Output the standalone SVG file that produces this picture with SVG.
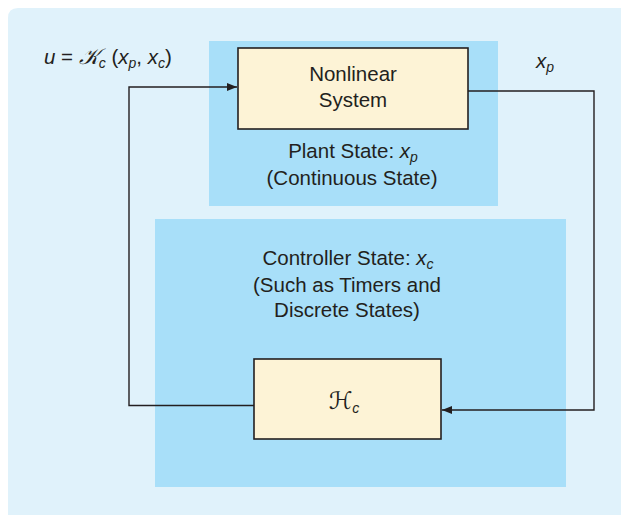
<svg xmlns="http://www.w3.org/2000/svg" width="621" height="515" viewBox="0 0 621 515">
  <defs>
    <style>
      .bg { fill: #e0f2fb; }
      .panel { fill: #a8dff9; }
      .box { fill: #fdf3d6; stroke: #231f20; stroke-width: 1.6; }
      .wire { fill: none; stroke: #231f20; stroke-width: 1.4; }
      text { font-family: "Liberation Sans", Arial, sans-serif; font-size: 20.5px; fill: #231f20; }
      .c { text-anchor: middle; }
      .it { font-style: italic; }
      .sub { font-style: italic; font-size: 14px; }
      .cal { font-family: "DejaVu Serif", "DejaVu Sans", serif; font-style: italic; }
    </style>
    <marker id="arrow" viewBox="0 0 10 8" refX="10" refY="4" markerWidth="10" markerHeight="8" markerUnits="userSpaceOnUse" orient="auto">
      <path d="M0,0 L10,4 L0,8 Z" fill="#231f20"/>
    </marker>
  </defs>

  <!-- background card -->
  <path class="bg" d="M18,8 H621 V515 H8 V18 Q8,8 18,8 Z"/>

  <!-- plant region -->
  <g id="plant-region">
    <rect class="panel" x="209" y="41" width="289" height="165"/>
    <text class="c" x="353" y="158">Plant State: <tspan class="it">x</tspan><tspan class="sub" dy="4">p</tspan></text>
    <text class="c" x="352" y="185">(Continuous State)</text>
  </g>

  <!-- controller region -->
  <g id="controller-region">
    <rect class="panel" x="155" y="219" width="411" height="268"/>
    <text class="c" x="348" y="265">Controller State: <tspan class="it">x</tspan><tspan class="sub" dy="4">c</tspan></text>
    <text class="c" x="347" y="292">(Such as Timers and</text>
    <text class="c" x="347" y="317">Discrete States)</text>
  </g>

  <!-- nonlinear system block -->
  <g id="nonlinear-system">
    <rect class="box" x="238" y="48" width="230" height="81"/>
    <text class="c" x="353" y="81">Nonlinear</text>
    <text class="c" x="353" y="107">System</text>
  </g>

  <!-- controller block -->
  <g id="controller">
    <rect class="box" x="254" y="359" width="187" height="80"/>
    <text class="c" x="344" y="409"><tspan class="cal" font-size="24">ℋ</tspan><tspan class="sub" dy="4">c</tspan></text>
  </g>

  <!-- connectors -->
  <g id="connectors">
    <path class="wire" d="M468,91 H594 V410 H442" marker-end="url(#arrow)"/>
    <path class="wire" d="M254,405.5 H129 V87 H237" marker-end="url(#arrow)"/>
  </g>

  <!-- signal labels -->
  <g id="labels">
    <text x="44" y="64"><tspan class="it">u</tspan> = <tspan class="cal" font-size="22">𝒦</tspan><tspan class="sub" dy="4">c</tspan><tspan dy="-4"> (</tspan><tspan class="it">x</tspan><tspan class="sub" dy="4">p</tspan><tspan dy="-4">, </tspan><tspan class="it">x</tspan><tspan class="sub" dy="4">c</tspan><tspan dy="-4">)</tspan></text>
    <text x="536" y="68"><tspan class="it">x</tspan><tspan class="sub" dy="4">p</tspan></text>
  </g>
</svg>
